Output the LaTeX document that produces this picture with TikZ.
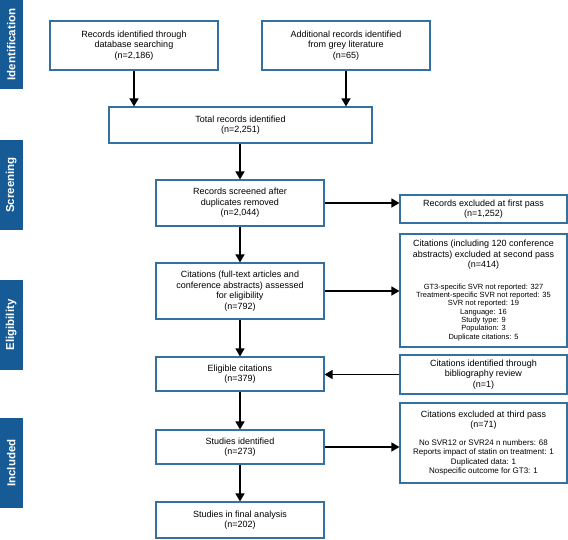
\documentclass[tikz,border=0pt]{standalone}
\usepackage{fontspec}
\setmainfont{Liberation Sans}
\usetikzlibrary{arrows.meta}
\definecolor{boxblue}{RGB}{52,112,160}
\definecolor{barblue}{RGB}{22,90,150}
\newcommand{\sml}[1]{{\fontsize{7.5}{8.3}\selectfont #1}}
\newcommand{\smm}[1]{{\fontsize{8}{9.3}\selectfont #1}}
\begin{document}
\begin{tikzpicture}[x=1pt,y=-1pt,
  box/.style={draw=boxblue, line width=1.1pt, align=center, inner sep=0pt, font=\fontsize{9}{10.5}\selectfont},
  bar/.style={fill=barblue, inner sep=0pt, minimum height=22.5pt, rotate=90, text=white, font=\bfseries\fontsize{11.5}{12}\selectfont},
  arr/.style={-{Triangle[width=9pt,length=8pt]}, line width=1.3pt}
]
\useasboundingbox (0,0) rectangle (568,539);
% side bars
\node[bar, minimum width=89pt] (bid) at (11.25,44.5) {Identification};
\node[bar, minimum width=90pt] (bsc) at (11.25,185) {Screening};
\node[bar, minimum width=90pt] (bel) at (11.25,325) {Eligibility};
\node[bar, minimum width=90pt] (bin) at (11.25,463) {Included};
% boxes
\node[box, minimum width=168pt, minimum height=49pt] (db) at (134,45.5) {Records identified through\\database searching\\(n=2,186)};
\node[box, minimum width=168pt, minimum height=49pt] (grey) at (346,45.5) {Additional records identified\\from grey literature\\(n=65)};
\node[box, minimum width=263pt, minimum height=36pt] (total) at (240.5,125) {Total records identified\\(n=2,251)};
\node[box, minimum width=168pt, minimum height=46pt] (screened) at (240,203) {Records screened after\\duplicates removed\\(n=2,044)};
\node[box, minimum width=167pt, minimum height=28pt] (first) at (483.5,209) {Records excluded at first pass\\(n=1,252)};
\node[box, minimum width=167pt, minimum height=113pt] (second) at (483.5,290.5) {Citations (including 120 conference\\abstracts) excluded at second pass\\(n=414)\\[11pt]
\sml{GT3-specific SVR not reported: 327}\\[-2.2pt]
\sml{Treatment-specific SVR not reported: 35}\\[-2.2pt]
\sml{SVR not reported: 19}\\[-2.2pt]
\sml{Language: 16}\\[-2.2pt]
\sml{Study type: 9}\\[-2.2pt]
\sml{Population: 3}\\[-2.2pt]
\sml{Duplicate citations: 5}};
\node[box, minimum width=168pt, minimum height=56pt] (assessed) at (240,291) {Citations (full-text articles and\\conference abstracts) assessed\\for eligibility\\(n=792)};
\node[box, minimum width=168pt, minimum height=34pt] (eligible) at (240,374) {Eligible citations\\(n=379)};
\node[box, minimum width=167pt, minimum height=39pt] (biblio) at (483.5,374.5) {Citations identified through\\bibliography review\\(n=1)};
\node[box, minimum width=167pt, minimum height=80pt] (third) at (483.5,443) {Citations excluded at third pass\\(n=71)\\[7pt]
\smm{No SVR12 or SVR24 n numbers: 68}\\[-1.2pt]
\smm{Reports impact of statin on treatment: 1}\\[-1.2pt]
\smm{Duplicated data: 1}\\[-1.2pt]
\smm{Nospecific outcome for GT3: 1}};
\node[box, minimum width=168pt, minimum height=34pt] (studies) at (240,447) {Studies identified\\(n=273)};
\node[box, minimum width=168pt, minimum height=36pt] (final) at (240,520) {Studies in final analysis\\(n=202)};
% arrows
\draw[arr] (db.south) -- (db.south |- total.north);
\draw[arr] (grey.south) -- (grey.south |- total.north);
\draw[arr] (screened.north |- total.south) -- (screened.north);
\draw[arr] (screened.east) -- (screened.east -| first.west);
\draw[arr] (screened.south) -- (assessed.north);
\draw[arr] (assessed.east) -- (assessed.east -| second.west);
\draw[arr] (assessed.south) -- (eligible.north);
\draw[arr] (biblio.west) -- (biblio.west -| eligible.east);
\draw[arr] (eligible.south) -- (studies.north);
\draw[arr] (studies.east) -- (studies.east -| third.west);
\draw[arr] (studies.south) -- (final.north);
\end{tikzpicture}
\end{document}
